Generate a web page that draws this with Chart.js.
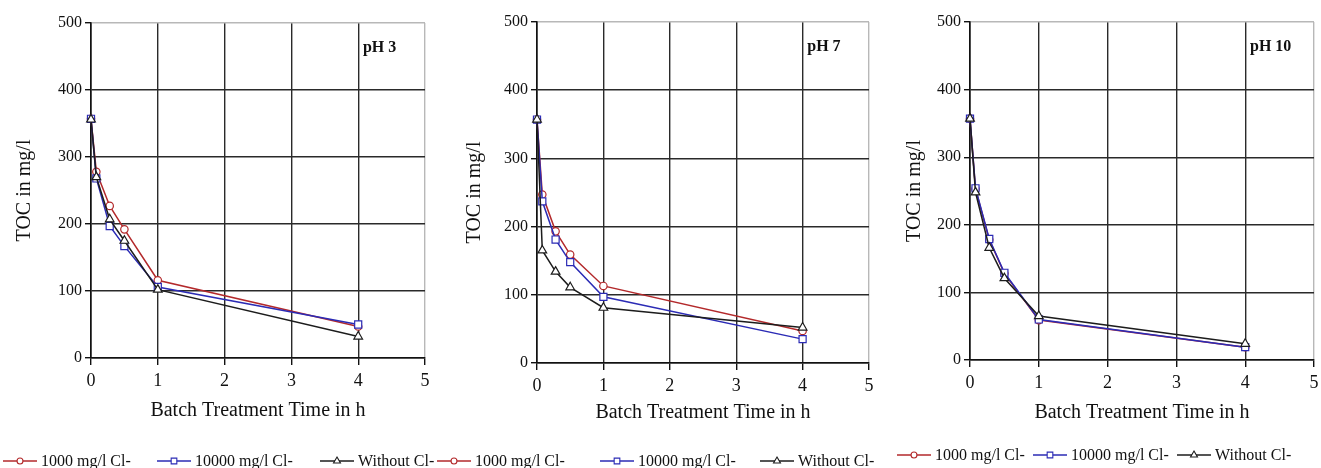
<!DOCTYPE html>
<html>
<head>
<meta charset="utf-8">
<script src="https://cdn.jsdelivr.net/npm/chart.js@4.4.0/dist/chart.umd.min.js"></script>
<style>
  html, body { margin: 0; padding: 0; background: #fff; }
  body { width: 1321px; height: 468px; position: relative; overflow: hidden; }
  .panel { position: absolute; top: 0; }
</style>
</head>
<body>
<canvas id="ph3" class="panel" width="445" height="468" style="left:0px"></canvas>
<canvas id="ph7" class="panel" width="445" height="468" style="left:435px"></canvas>
<canvas id="ph10" class="panel" width="436" height="468" style="left:885px"></canvas>
<script>
// ---------- data ----------
const times = [0, 0.08, 0.28, 0.5, 1, 4];
const seriesLabels = ["1000 mg/l Cl-", "10000 mg/l Cl-", "Without Cl-"];
const xTicks = [0, 1, 2, 3, 4, 5];
const yTicks = [0, 100, 200, 300, 400, 500];

const ph3Cl1000 = [357, 278, 227, 192, 116, 47];
const ph3Cl10000 = [357, 268, 197, 167, 106, 50];
const ph3NoCl = [356, 270, 207, 175, 102, 32];

const ph7Cl1000 = [357, 247, 193, 159, 113, 47];
const ph7Cl10000 = [357, 237, 181, 148, 97, 35];
const ph7NoCl = [357, 165, 134, 111, 81, 52];

const ph10Cl1000 = [357, 253, 178, 128, 59, 19];
const ph10Cl10000 = [357, 254, 179, 129, 60, 19];
const ph10NoCl = [357, 248, 166, 121, 65, 24];

// ---------- styling ----------
const SERIF = '"Liberation Serif", "Times New Roman", serif';
const colors = ["#b3292b", "#2b2bb5", "#1c1c1c"];
const markers = ["circle", "rect", "triangle"];
const markerSize = [3.7, 5, 5];
const drawOrder = [3, 2, 1];

// legend: line with marker in the middle, then label
const sampleLegend = {
  id: "sampleLegend",
  afterDraw(chart, args, opts) {
    const ctx = chart.ctx;
    ctx.save();
    ctx.font = "16px " + SERIF;
    ctx.textBaseline = "middle";
    ctx.textAlign = "left";
    chart.data.datasets.forEach((ds, i) => {
      const x = opts.xs[i];
      const y = opts.y;
      ctx.strokeStyle = ds.borderColor;
      ctx.lineWidth = 1.3;
      ctx.beginPath();
      ctx.moveTo(x, y);
      ctx.lineTo(x + 34, y);
      ctx.stroke();
      ctx.fillStyle = "#fff";
      ctx.lineWidth = 1.1;
      Chart.helpers.drawPoint(ctx, {
        pointStyle: ds.pointStyle,
        radius: ds.pointRadius * 0.8,
        borderWidth: 1.1,
        rotation: 0,
      }, x + 17, y);
      ctx.fillStyle = "#111";
      ctx.fillText(ds.label, x + 38, y + 1);
    });
    ctx.restore();
  },
};

// "pH x" tag inside the plot
const panelTag = {
  id: "panelTag",
  afterDatasetsDraw(chart, args, opts) {
    const ctx = chart.ctx;
    ctx.save();
    ctx.font = "bold 16px " + SERIF;
    ctx.fillStyle = "#111";
    ctx.textAlign = "left";
    ctx.textBaseline = "middle";
    ctx.fillText(opts.text, chart.scales.x.getPixelForValue(opts.at[0]), chart.scales.y.getPixelForValue(opts.at[1]));
    ctx.restore();
  },
};

function makePanel(id, tag, values, L) {
  const datasets = values.map((arr, i) => ({
    label: seriesLabels[i],
    data: arr.map((v, k) => ({ x: times[k], y: v })),
    borderColor: colors[i],
    backgroundColor: "#fff",
    pointBackgroundColor: "#fff",
    pointBorderColor: colors[i],
    pointStyle: markers[i],
    pointRadius: markerSize[i],
    pointBorderWidth: 1.2,
    borderWidth: 1.5,
    tension: 0,
    clip: false,
    order: drawOrder[i],
  }));

  new Chart(document.getElementById(id), {
    type: "line",
    data: { datasets },
    plugins: [sampleLegend, panelTag],
    options: {
      responsive: false,
      animation: false,
      devicePixelRatio: 1,
      layout: { padding: { top: L.top, right: L.right, left: 0, bottom: 0 } },
      plugins: {
        legend: { display: false },
        tooltip: { enabled: false },
        sampleLegend: { xs: L.legendX, y: L.legendY },
        panelTag: { text: tag, at: [4.07, 463] },
      },
      scales: {
        x: {
          type: "linear",
          min: 0,
          max: 5,
          afterFit: (s) => {
            s.height = L.xHeight;
            s.paddingLeft = 0;
            s.paddingRight = 0;
          },
          afterBuildTicks: (s) => { s.ticks = xTicks.map((v) => ({ value: v })); },
          ticks: { color: "#111", font: { family: SERIF, size: 18 }, padding: 5, maxRotation: 0 },
          grid: {
            color: (c) => (c.tick && c.tick.value === 5 ? "#b8b8b8" : "#2a2a2a"),
            lineWidth: 1.4,
            tickLength: 7,
            tickColor: "#111",
          },
          border: { color: "#111", width: 1.6 },
          title: {
            display: true,
            text: "Batch Treatment Time in h",
            color: "#111",
            font: { family: SERIF, size: 20 },
            padding: { top: 0, bottom: L.xTitlePad },
          },
        },
        y: {
          type: "linear",
          min: 0,
          max: 500,
          afterFit: (s) => {
            s.width = L.yWidth;
            s.paddingTop = 0;
            s.paddingBottom = 0;
          },
          afterBuildTicks: (s) => { s.ticks = yTicks.map((v) => ({ value: v })); },
          ticks: { color: "#111", font: { family: SERIF, size: 16 }, padding: 3 },
          grid: {
            color: (c) => (c.tick && c.tick.value === 500 ? "#b8b8b8" : "#2a2a2a"),
            lineWidth: 1.4,
            tickLength: 6,
            tickColor: "#111",
          },
          border: { color: "#111", width: 1.6 },
          title: {
            display: true,
            text: "TOC in mg/l",
            color: "#111",
            font: { family: SERIF, size: 20 },
            padding: { top: L.yTitlePad, bottom: 0 },
          },
        },
      },
    },
  });
}

makePanel("ph3", "pH 3", [ph3Cl1000, ph3Cl10000, ph3NoCl], {
  top: 23, right: 20, xHeight: 110, yWidth: 91, yTitlePad: 13, xTitlePad: 45,
  legendX: [3, 157, 320], legendY: 461,
});
makePanel("ph7", "pH 7", [ph7Cl1000, ph7Cl10000, ph7NoCl], {
  top: 22, right: 11, xHeight: 105, yWidth: 102, yTitlePad: 28, xTitlePad: 43,
  legendX: [2, 165, 325], legendY: 461,
});
makePanel("ph10", "pH 10", [ph10Cl1000, ph10Cl10000, ph10NoCl], {
  top: 22, right: 7, xHeight: 108, yWidth: 85, yTitlePad: 18, xTitlePad: 43,
  legendX: [12, 148, 292], legendY: 455,
});
</script>
</body>
</html>
